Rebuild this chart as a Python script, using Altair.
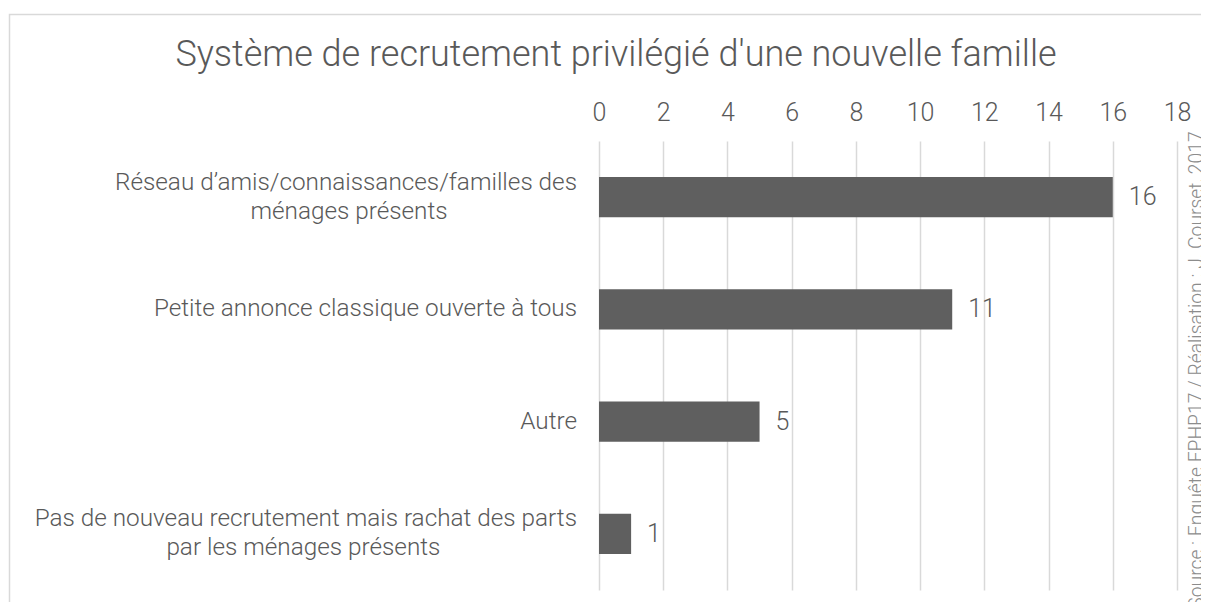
import altair as alt
import pandas as pd

# ---- data ----
categories = [
    "Réseau d’amis/connaissances/familles des\nménages présents",
    "Petite annonce classique ouverte à tous",
    "Autre",
    "Pas de nouveau recrutement mais rachat des parts\npar les ménages présents",
]
values = [16, 11, 5, 1]
x_ticks = [0, 2, 4, 6, 8, 10, 12, 14, 16, 18]
title_text = "Système de recrutement privilégié d'une nouvelle famille"
source_text = "Source : Enquête EPHP17 / Réalisation : J. Courset, 2017"

df = pd.DataFrame({"cat": categories, "val": values})

# ---- style ----
FONT = "Roboto"
GREY = "#595959"
LABEL_SIZE = 24.3
CHAR_W = 11.4  # approximate average width per character of label font
LABEL_GAP = 22

base = alt.Chart(df).transform_calculate(
    line1="split(datum.cat, '\\n')[0]",
    line2="length(split(datum.cat, '\\n')) > 1 ? split(datum.cat, '\\n')[1] : ''",
)

y_enc = alt.Y(
    "cat:N",
    sort=categories,
    axis=None,
    scale=alt.Scale(paddingInner=0.643, paddingOuter=0.3215),
)

bars = base.mark_bar(color="#5f5f5f").encode(
    x=alt.X(
        "val:Q",
        scale=alt.Scale(domain=[0, 18], nice=False),
        axis=alt.Axis(
            orient="top",
            values=x_ticks,
            grid=True,
            gridColor="#d9d9d9",
            gridWidth=1.5,
            domain=False,
            ticks=False,
            tickSize=0,
            labelFlush=False,
            labelOverlap=False,
            labelFont=FONT,
            labelFontSize=25,
            labelFontWeight=300,
            labelColor=GREY,
            labelPadding=16,
            title=None,
        ),
    ),
    y=y_enc,
)

value_labels = base.mark_text(
    align="left", baseline="middle", dx=16, font=FONT, fontSize=25,
    fontWeight=300, color=GREY,
).encode(x="val:Q", y=y_enc, text="val:Q")

single_lbl = base.transform_filter("datum.line2 == ''").mark_text(
    align="right", baseline="middle", font=FONT, fontSize=LABEL_SIZE,
    fontWeight=300, color=GREY,
).encode(x=alt.value(-LABEL_GAP), y=y_enc, text="line1:N")

multi_l1 = base.transform_filter("datum.line2 != ''").mark_text(
    align="right", baseline="middle", dy=-14.5, font=FONT, fontSize=LABEL_SIZE,
    fontWeight=300, color=GREY,
).encode(x=alt.value(-LABEL_GAP), y=y_enc, text="line1:N")

multi_l2 = base.transform_filter("datum.line2 != ''").transform_calculate(
    cx=f"-{LABEL_GAP} - length(datum.line1) * {CHAR_W} / 2"
).mark_text(
    align="center", baseline="middle", dy=14.5, font=FONT, fontSize=LABEL_SIZE,
    fontWeight=300, color=GREY,
).encode(x=alt.X("cx:Q", scale=None), y=y_enc, text="line2:N")

title = alt.Chart(alt.Data(values=[{"t": title_text}])).mark_text(
    align="center", baseline="alphabetic", font=FONT, fontSize=36,
    fontWeight=300, color=GREY,
).encode(x=alt.value(17), y=alt.value(-75), text="t:N")

source = alt.Chart(alt.Data(values=[{"t": source_text}])).mark_text(
    align="center", baseline="alphabetic", angle=270, font=FONT, fontSize=19.3,
    fontWeight=300, color="#8c8c8c",
).encode(x=alt.value(604), y=alt.value(229), text="t:N")

border = alt.Chart(alt.Data(values=[{"k": 0}])).mark_rect(
    fillOpacity=0, stroke="#d9d9d9", strokeWidth=1.5,
).encode(
    x=alt.value(-589.5), x2=alt.value(700),
    y=alt.value(-126.5), y2=alt.value(600),
)

chart = alt.layer(
    border, bars, value_labels, single_lbl, multi_l1, multi_l2, title, source
).properties(
    width=578,
    height=449,
    autosize=alt.AutoSizeParams(type="none"),
    padding={"left": 591, "top": 133, "right": 24, "bottom": 12},
).configure_view(stroke=None)

chart.save("out.html", embed_options={"renderer": "svg", "actions": False})
